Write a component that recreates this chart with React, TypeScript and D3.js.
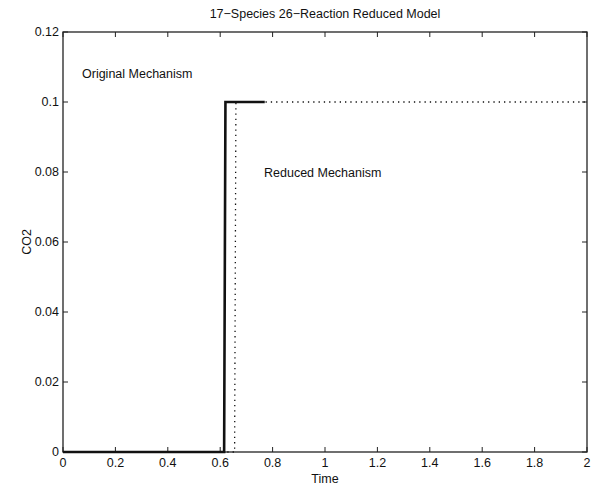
import React from "react";
import * as d3 from "d3";

const xTicks = [0, 0.2, 0.4, 0.6, 0.8, 1, 1.2, 1.4, 1.6, 1.8, 2];
const yTicks = [0, 0.02, 0.04, 0.06, 0.08, 0.1, 0.12];
const yTickLabels = ["0", "0.02", "0.04", "0.06", "0.08", "0.1", "0.12"];

const originalTime = [0, 0.615, 0.62, 0.77];
const originalCO2 = [0, 0, 0.1, 0.1];
const reducedTime = [0, 0.655, 0.66, 2];
const reducedCO2 = [0, 0, 0.1, 0.1];

const title = "17\u2212Species 26\u2212Reaction Reduced Model";

export default function App() {
  const W = 598, H = 489;
  const m = { left: 63, right: 587, top: 32, bottom: 452 };
  const x = d3.scaleLinear().domain([0, 2]).range([m.left, m.right]);
  const y = d3.scaleLinear().domain([0, 0.12]).range([m.bottom, m.top]);
  const line = d3.line<[number, number]>().x(d => x(d[0])).y(d => y(d[1]));
  const orig = originalTime.map((t, i) => [t, originalCO2[i]] as [number, number]);
  const red = reducedTime.map((t, i) => [t, reducedCO2[i]] as [number, number]);
  const font = "Liberation Sans, Arial, sans-serif";
  const tl = 5;
  return (
    <svg width={W} height={H} style={{ position: "absolute", left: 0, top: 0, background: "#fff" }} fontFamily={font}>
      <rect x={m.left} y={m.top} width={m.right - m.left} height={m.bottom - m.top} fill="none" stroke="#222" strokeWidth={1.3} />
      {xTicks.map(t => (
        <g key={"x" + t}>
          <line x1={x(t)} x2={x(t)} y1={m.bottom} y2={m.bottom - tl} stroke="#222" />
          <line x1={x(t)} x2={x(t)} y1={m.top} y2={m.top + tl} stroke="#222" />
          <text x={x(t)} y={m.bottom + 15} textAnchor="middle" fontSize={12.5} fill="#111">{String(t)}</text>
        </g>
      ))}
      {yTicks.map((t, i) => (
        <g key={"y" + t}>
          <line x1={m.left} x2={m.left + tl} y1={y(t)} y2={y(t)} stroke="#222" />
          <line x1={m.right} x2={m.right - tl} y1={y(t)} y2={y(t)} stroke="#222" />
          <text x={m.left - 4} y={y(t) + 4} textAnchor="end" fontSize={12.5} fill="#111">{yTickLabels[i]}</text>
        </g>
      ))}
      <path d={line(red) || ""} fill="none" stroke="#111" strokeWidth={1.3} strokeDasharray="1.3,4" />
      <path d={line(orig) || ""} fill="none" stroke="#111" strokeWidth={2.6} />
      <text x={(m.left + m.right) / 2} y={18} textAnchor="middle" fontSize={12.5} fill="#111">{title}</text>
      <text x={(m.left + m.right) / 2} y={483} textAnchor="middle" fontSize={12.5} fill="#111">Time</text>
      <text transform={`translate(31,${(m.top + m.bottom) / 2}) rotate(-90)`} textAnchor="middle" fontSize={12.5} fill="#111">CO2</text>
      <text x={82} y={78} fontSize={12.5} fill="#111">Original Mechanism</text>
      <text x={264} y={177} fontSize={12.5} fill="#111">Reduced Mechanism</text>
    </svg>
  );
}
